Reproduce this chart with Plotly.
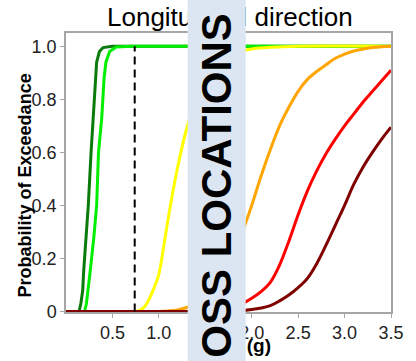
import plotly.graph_objects as go

# Fragility curves: probability of exceedance vs. intensity (g)
x_dark_green = [0, 0.14, 0.16, 0.18, 0.19, 0.22, 0.24, 0.27, 0.29, 0.31, 0.33, 0.36, 0.40, 0.50, 3.5]
y_dark_green = [0, 0, 0.03, 0.08, 0.15, 0.28, 0.40, 0.60, 0.73, 0.85, 0.94, 0.98, 0.995, 1.0, 1.0]

x_green = [0, 0.20, 0.22, 0.24, 0.26, 0.30, 0.33, 0.35, 0.385, 0.41, 0.43, 0.47, 0.54, 0.70, 3.5]
y_green = [0, 0, 0.03, 0.08, 0.15, 0.28, 0.40, 0.60, 0.73, 0.88, 0.94, 0.98, 0.997, 1.0, 1.0]

x_yellow = [0, 0.75, 0.80, 0.85, 0.90, 0.95, 1.00, 1.05, 1.10, 1.15, 1.20, 1.25, 1.30, 1.40,
            1.50, 1.60, 1.70, 1.80, 1.90, 2.00, 2.20, 2.50, 3.50]
y_yellow = [0, 0, 0.005, 0.02, 0.05, 0.09, 0.14, 0.24, 0.35, 0.45, 0.54, 0.62, 0.69, 0.80,
            0.87, 0.92, 0.955, 0.972, 0.983, 0.99, 0.996, 1.0, 1.0]

x_orange = [0, 1.0, 1.1, 1.2, 1.3, 1.4, 1.5, 1.6, 1.7, 1.8, 1.9, 2.0, 2.1, 2.2, 2.3, 2.4, 2.5,
            2.6, 2.7, 2.8, 2.9, 3.0, 3.1, 3.2, 3.3, 3.4, 3.5]
y_orange = [0, 0, 0.002, 0.006, 0.015, 0.03, 0.055, 0.09, 0.14, 0.21, 0.30, 0.40, 0.51, 0.61,
            0.70, 0.77, 0.83, 0.875, 0.905, 0.93, 0.955, 0.97, 0.982, 0.99, 0.995, 0.998, 1.0]

x_red = [0, 1.4, 1.5, 1.6, 1.7, 1.8, 1.9, 2.0, 2.1, 2.2, 2.3, 2.4, 2.5, 2.6, 2.7, 2.8, 2.9,
         3.0, 3.1, 3.2, 3.3, 3.4, 3.5]
y_red = [0, 0, 0.002, 0.005, 0.01, 0.018, 0.03, 0.05, 0.075, 0.11, 0.175, 0.265, 0.365, 0.455,
         0.53, 0.595, 0.65, 0.70, 0.745, 0.79, 0.83, 0.87, 0.91]

x_dark_red = [0, 1.7, 1.8, 1.9, 2.0, 2.1, 2.2, 2.3, 2.4, 2.5, 2.6, 2.7, 2.8, 2.9, 3.0, 3.1,
              3.2, 3.3, 3.4, 3.5]
y_dark_red = [0, 0, 0.001, 0.003, 0.007, 0.013, 0.022, 0.04, 0.062, 0.09, 0.125, 0.18, 0.25,
              0.325, 0.40, 0.48, 0.545, 0.60, 0.65, 0.695]

threshold_x = [0.74, 0.74]
threshold_y = [0, 1.0]

x_tickvals = [0.5, 1.0, 1.5, 2.0, 2.5, 3.0, 3.5]
x_ticktext = ["0.5", "1.0", "1.5", "2.0", "2.5", "3.0", "3.5"]
y_tickvals = [0, 0.2, 0.4, 0.6, 0.8, 1.0]
y_ticktext = ["0", "0.2", "0.4", "0.6", "0.8", "1.0"]

curves = [
    (x_dark_green, y_dark_green, "#0a7a0a", "linear"),
    (x_green, y_green, "#00ee00", "linear"),
    (x_yellow, y_yellow, "#ffff00", "spline"),
    (x_orange, y_orange, "#ffa500", "spline"),
    (x_red, y_red, "#ff0000", "spline"),
    (x_dark_red, y_dark_red, "#800000", "spline"),
]

fig = go.Figure()
for xs, ys, col, shape in curves:
    line = dict(color=col, width=3, shape=shape)
    if shape == "spline":
        line["smoothing"] = 1.0
    fig.add_trace(go.Scatter(x=xs, y=ys, mode="lines", line=line,
                             showlegend=False, hoverinfo="skip"))

fig.add_trace(go.Scatter(x=threshold_x, y=threshold_y, mode="lines",
                         line=dict(color="black", width=2, dash="8px,5px"),
                         showlegend=False, hoverinfo="skip"))

axis_common = dict(showgrid=False, zeroline=False, showline=True, mirror=True,
                   linecolor="#a6a6a6", linewidth=1.5, ticks="outside",
                   ticklen=4, tickcolor="#a6a6a6",
                   tickfont=dict(family="Liberation Sans, Arial", size=18, color="#222222"))

fig.update_xaxes(range=[0, 3.5], tickvals=x_tickvals, ticktext=x_ticktext, **axis_common)
fig.update_yaxes(range=[-0.002, 1.05], tickvals=y_tickvals, ticktext=y_ticktext, **axis_common)

font_main = "Liberation Sans, Arial"
annotations = [
    dict(text="Longitudinal direction", x=0.505, y=1.057, xref="paper", yref="paper",
         xanchor="center", yanchor="middle", showarrow=False,
         font=dict(family=font_main, size=26, color="black")),
    dict(text="<b>Probability of Exceedance</b>", x=-0.125, y=0.455, xref="paper", yref="paper",
         xanchor="center", yanchor="middle", textangle=-90, showarrow=False,
         font=dict(family=font_main, size=18, color="black")),
    dict(text="<b>PGA, (g)</b>", x=0.636, y=-0.12, xref="paper", yref="paper",
         xanchor="right", yanchor="middle", showarrow=False,
         font=dict(family=font_main, size=19, color="black")),
    dict(text="<b>OSS LOCATIONS</b>", x=0.464, y=0.453, xref="paper", yref="paper",
         xanchor="center", yanchor="middle", textangle=-90, showarrow=False,
         width=420, height=57, bgcolor="#dce6f2", borderpad=0,
         font=dict(family=font_main, size=42, color="black")),
]

fig.update_layout(
    width=416, height=361,
    margin=dict(l=66, r=15, t=33, b=49),
    paper_bgcolor="white", plot_bgcolor="white",
    annotations=annotations,
)

fig.write_html("out.html")
